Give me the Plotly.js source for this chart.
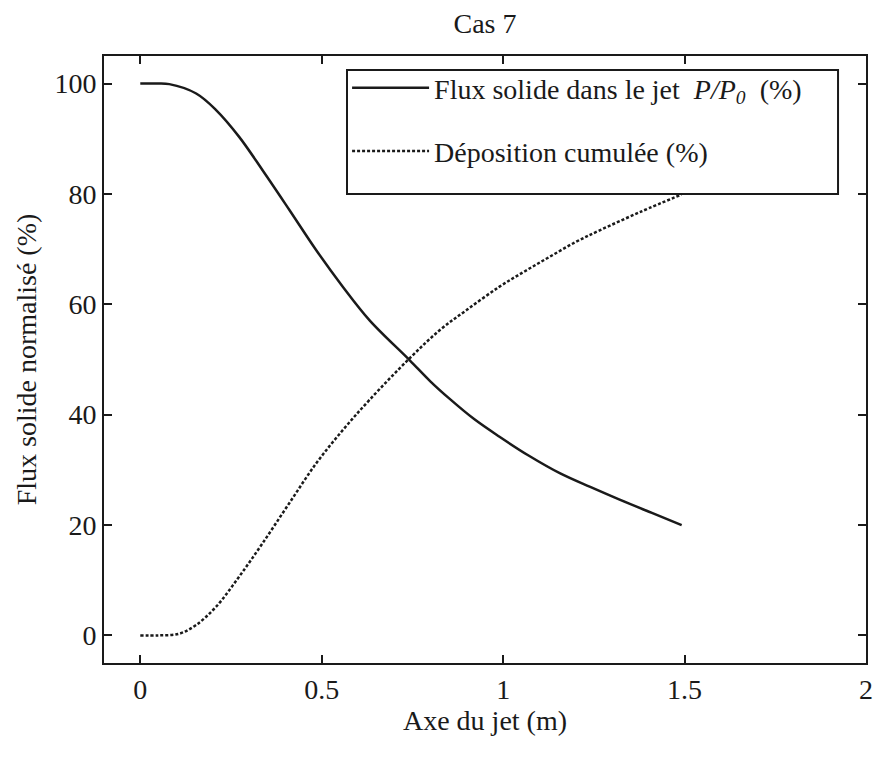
<!DOCTYPE html>
<html>
<head>
<meta charset="utf-8">
<script src="https://cdn.plot.ly/plotly-3.0.1.min.js"></script>
<style>html,body{margin:0;padding:0;background:#fff;}#chart{width:874px;height:760px;}</style>
</head>
<body>
<div id="chart"></div>
<script>
// Data
const fluxX = [0, 0.04, 0.08, 0.154, 0.209, 0.273, 0.337, 0.411, 0.485, 0.558, 0.632, 0.742, 0.80, 0.852, 0.92, 0.99, 1.07, 1.156, 1.24, 1.321, 1.41, 1.492];
const fluxY = [100, 100, 99.9, 98.2, 95.2, 90.3, 84.3, 77.1, 69.8, 63.2, 57.1, 49.9, 46.0, 42.9, 39.2, 36.0, 32.6, 29.4, 26.9, 24.6, 22.2, 20.0];
const depX = [0, 0.05, 0.107, 0.154, 0.209, 0.273, 0.337, 0.411, 0.485, 0.558, 0.632, 0.742, 0.825, 0.90, 0.99, 1.06, 1.128, 1.20, 1.266, 1.38, 1.492];
const depY = [0, 0, 0.3, 1.9, 5.2, 10.7, 16.7, 24.0, 31.2, 37.2, 42.7, 50.2, 55.3, 59.0, 63.2, 66.0, 68.6, 71.3, 73.4, 76.8, 79.9];
const xTicks = [0, 0.5, 1, 1.5, 2];
const xTickLabels = ['0', '0.5', '1', '1.5', '2'];
const yTicks = [0, 20, 40, 60, 80, 100];
const yTickLabels = ['0', '20', '40', '60', '80', '100'];
const seriesNames = ['Flux solide dans le jet &nbsp;<i>P/P</i><sub><i>0</i></sub>&nbsp; (%)', 'Déposition cumulée (%)'];

const FONT = '"Liberation Serif", "Times New Roman", serif';
const INK = '#1a1a1a';
const traces = [
  {x: fluxX, y: fluxY, type: 'scatter', mode: 'lines', name: seriesNames[0], legendgroup: 'a',
   line: {color: INK, width: 2.5, shape: 'spline', smoothing: 1}},
  {x: depX, y: depY, type: 'scatter', mode: 'lines', name: seriesNames[1], legendgroup: 'b',
   line: {color: INK, width: 2.5, dash: '3px,2px', shape: 'spline', smoothing: 1}}
];
const axisCommon = {
  showgrid: false, zeroline: false, showline: true, linecolor: INK, linewidth: 2,
  mirror: 'ticks', ticks: 'inside', ticklen: 8, tickwidth: 2, tickcolor: INK,
  tickfont: {family: FONT, size: 28, color: INK}
};
const layout = {
  width: 874, height: 760,
  paper_bgcolor: '#fff', plot_bgcolor: '#fff',
  font: {family: FONT, size: 28, color: INK},
  margin: {l: 104, r: 8, t: 56, b: 97},
  title: {text: 'Cas 7', x: 0.5, xref: 'paper', y: 0.969, yref: 'container', yanchor: 'middle',
    font: {family: FONT, size: 28, color: INK}},
  xaxis: Object.assign({}, axisCommon, {range: [-0.1, 2], tickvals: xTicks, ticktext: xTickLabels,
    title: {text: 'Axe du jet (m)', standoff: 3, font: {family: FONT, size: 28, color: INK}}}),
  yaxis: Object.assign({}, axisCommon, {range: [-5, 105], tickvals: yTicks, ticktext: yTickLabels,
    title: {text: 'Flux solide normalisé (%)', standoff: 10, font: {family: FONT, size: 28, color: INK}}}),
  showlegend: true,
  legend: {x: 0.319, y: 0.9885, xanchor: 'left', yanchor: 'top', bgcolor: 'rgba(0,0,0,0)',
    borderwidth: 0, font: {family: FONT, size: 28, color: INK},
    itemwidth: 77, tracegroupgap: 24, traceorder: 'grouped'},
  shapes: [{type: 'rect', xref: 'paper', yref: 'paper', x0: 0.3189, x1: 0.9633, y0: 0.7727, y1: 0.9769,
    line: {color: INK, width: 2}, fillcolor: '#fff', layer: 'below'}]
};
Plotly.newPlot('chart', traces, layout, {displayModeBar: false, staticPlot: true});
</script>
</body>
</html>
